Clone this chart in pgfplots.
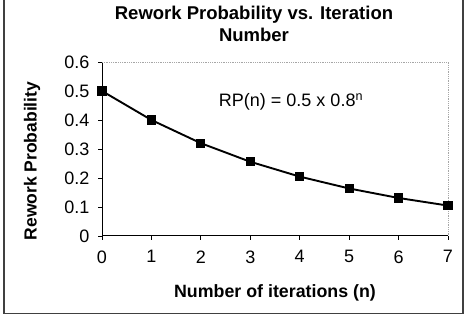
\documentclass[border=0pt]{standalone}
\usepackage{pgfplots}
\pgfplotsset{compat=1.18}
\usepackage{fontspec}
\setmainfont{Liberation Sans}
\begin{document}
\begin{tikzpicture}[x=1pt,y=1pt]
\useasboundingbox (0,0) rectangle (468,320);
\draw[line width=1.5pt, black!75] (4,322) -- (4,6.5) -- (463,6.5) -- (463,322);
\begin{axis}[
  at={(102pt,84pt)}, anchor=south west,
  scale only axis, width=346pt, height=174pt,
  xmin=0, xmax=7, ymin=0, ymax=0.6,
  axis x line*=bottom, axis y line*=left,
  axis line style={line width=1pt, black, -},
  xtick={0,1,...,7}, ytick={0,0.1,...,0.6},
  yticklabels={0,0.1,0.2,0.3,0.4,0.5,0.6},
  tick align=outside, major tick length=4pt,
  tick style={black, line width=0.8pt},
  /pgf/number format/assume math mode=true,
  ticklabel style={font=\fontsize{18}{21}\selectfont},
  xticklabel style={yshift=-7pt},
  yticklabel style={xshift=-5pt},
  clip=false,
]
\draw[gray!70, densely dotted, line width=0.8pt] (rel axis cs:0,1) -- (rel axis cs:1,1) -- (rel axis cs:1,0);
\addplot[black, line width=1.9pt, mark=square*, mark size=3.6pt, mark options={solid}] coordinates {
(0,0.5) (1,0.4) (2,0.32) (3,0.256) (4,0.2048) (5,0.16384) (6,0.131072) (7,0.1048576)
};
\end{axis}
\node[font=\fontsize{18.5}{22}\selectfont\bfseries, align=center] at (254,296) {Rework Probability vs. Iteration\\Number};
\node[font=\fontsize{17.8}{20}\selectfont\bfseries] at (275,27) {Number of iterations (n)};
\node[font=\fontsize{17.5}{20}\selectfont\bfseries, rotate=90] at (32,159) {Rework Probability};
\node[font=\fontsize{18}{20}\selectfont] at (291,218) {RP(n) = 0.5 x 0.8\textsuperscript{n}};
\end{tikzpicture}
\end{document}
